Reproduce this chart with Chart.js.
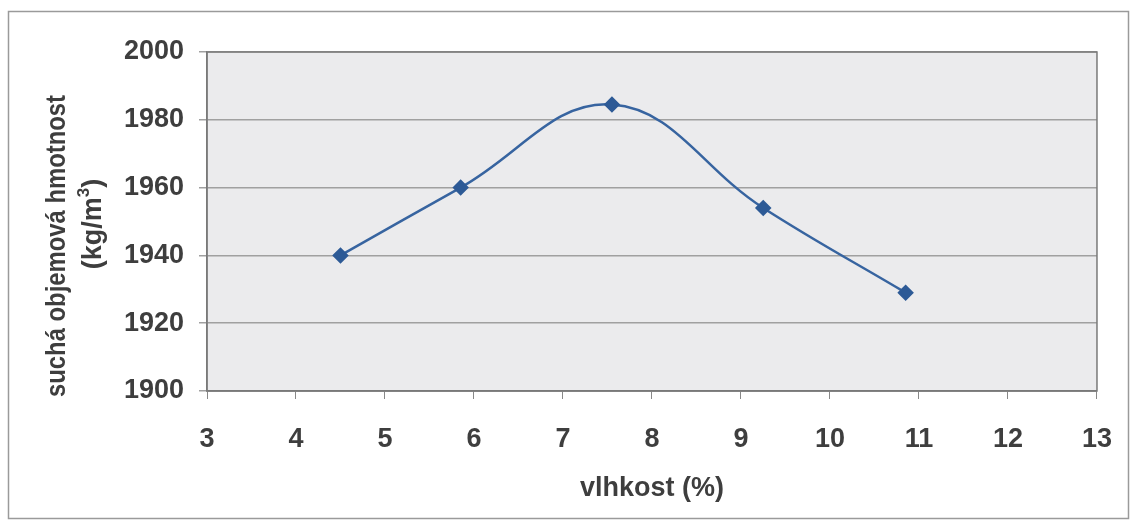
<!DOCTYPE html>
<html>
<head>
<meta charset="utf-8">
<script src="https://cdn.jsdelivr.net/npm/chart.js@4"></script>
<style>
  html, body { margin: 0; padding: 0; background: #fff; }
  #wrap { width: 1136px; height: 523px; }
</style>
</head>
<body>
<div id="wrap"><canvas id="myChart" width="1136" height="523"></canvas></div>
<script>
// moisture (%) vs dry density (kg/m3)
const moisture = [4.5, 5.85, 7.55, 9.25, 10.85];
const density = [1940, 1960, 1984.5, 1954, 1929];
const yTitle = ["suchá objemová hmotnost", "(kg/m", "3", ")"];
const xTitle = "vlhkost (%)";

const points = moisture.map((m, i) => ({ x: m, y: density[i] }));
const textColor = "#3e3e3e";
const fontFam = "Arial, 'Liberation Sans', sans-serif";

// gray plot area, outer frame, rotated two-line y title
const frame = {
  id: "frame",
  beforeDraw(chart) {
    const { ctx, chartArea: a } = chart;
    ctx.save();
    ctx.fillStyle = "#ebebed";
    ctx.fillRect(a.left, a.top, a.right - a.left, a.bottom - a.top);
    ctx.strokeStyle = "#9a9a9a";
    ctx.lineWidth = 1.5;
    ctx.strokeRect(8.5, 11.5, 1120, 507);
    ctx.restore();
  },
  afterDraw(chart) {
    const { ctx, chartArea: a } = chart;
    ctx.save();
    ctx.strokeStyle = "#7a7a7a";
    ctx.lineWidth = 1.5;
    ctx.strokeRect(a.left, a.top, a.right - a.left, a.bottom - a.top);
    ctx.fillStyle = textColor;
    ctx.font = "bold 27px " + fontFam;
    ctx.textBaseline = "alphabetic";
    ctx.translate(65, 246);
    ctx.rotate(-Math.PI / 2);
    ctx.textAlign = "center";
    ctx.fillText(yTitle[0], 0, 0, 302);
    // second line with superscript
    ctx.textAlign = "left";
    const w1 = ctx.measureText(yTitle[1]).width;
    ctx.font = "bold 17px " + fontFam;
    const w2 = ctx.measureText(yTitle[2]).width;
    ctx.font = "bold 27px " + fontFam;
    const w3 = ctx.measureText(yTitle[3]).width;
    let x = 22 - (w1 + w2 + w3) / 2;
    ctx.fillText(yTitle[1], x, 36);
    x += w1;
    ctx.font = "bold 17px " + fontFam;
    ctx.fillText(yTitle[2], x, 24);
    x += w2;
    ctx.font = "bold 27px " + fontFam;
    ctx.fillText(yTitle[3], x, 36);
    ctx.restore();
  }
};

const tickFont = { family: fontFam, size: 27, weight: "bold" };

new Chart(document.getElementById("myChart"), {
  type: "scatter",
  data: {
    datasets: [{
      data: points,
      showLine: true,
      tension: 0.4,
      borderColor: "#3764a0",
      borderWidth: 2.5,
      pointStyle: "rectRot",
      pointRadius: 6.5,
      pointBackgroundColor: "#2d5a96",
      pointBorderColor: "#2d5a96"
    }]
  },
  options: {
    responsive: false,
    animation: false,
    layout: { padding: { left: 0, top: 52, right: 30, bottom: 0 } },
    plugins: { legend: { display: false }, tooltip: { enabled: false } },
    scales: {
      x: {
        type: "linear",
        min: 3,
        max: 13,
        afterFit(s) { s.height = 132; },
        ticks: { stepSize: 1, color: textColor, font: tickFont, padding: 24 },
        grid: { drawOnChartArea: false, drawTicks: true, tickLength: 8, color: "#888" },
        border: { color: "#7a7a7a", width: 1.5 },
        title: { display: true, text: xTitle, color: textColor, font: tickFont, padding: { top: 8, bottom: 18 } }
      },
      y: {
        min: 1900,
        max: 2000,
        afterFit(s) { s.width = 207; },
        ticks: { stepSize: 20, color: textColor, font: tickFont, padding: 15, callback: v => String(v) },
        grid: { color: "#a0a0a0", lineWidth: 1.5, tickLength: 8 },
        border: { color: "#7a7a7a", width: 1.5 }
      }
    }
  },
  plugins: [frame]
});
</script>
</body>
</html>
